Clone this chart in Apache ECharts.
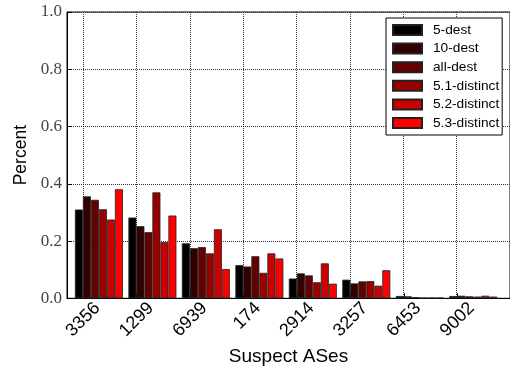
<!DOCTYPE html>
<html>
<head>
<meta charset="utf-8">
<script src="https://cdn.jsdelivr.net/npm/echarts@6/dist/echarts.min.js"></script>
<style>html,body{margin:0;padding:0;background:#fff}#c{width:510px;height:371px}</style>
</head>
<body>
<div id="c"></div>
<script>
var categories = ['3356', '1299', '6939', '174', '2914', '3257', '6453', '9002'];
var seriesNames = ['5-dest', '10-dest', 'all-dest', '5.1-distinct', '5.2-distinct', '5.3-distinct'];
var seriesColors = ['#000000', '#330000', '#660000', '#990000', '#cc0000', '#ff0000'];
var dest5 =      [0.310, 0.282, 0.192, 0.116, 0.069, 0.065, 0.008, 0.008];
var dest10 =     [0.356, 0.252, 0.175, 0.111, 0.087, 0.052, 0.007, 0.009];
var destAll =    [0.344, 0.231, 0.179, 0.147, 0.080, 0.059, 0.004, 0.007];
var distinct51 = [0.311, 0.370, 0.157, 0.089, 0.056, 0.060, 0.002, 0.006];
var distinct52 = [0.275, 0.196, 0.241, 0.157, 0.122, 0.044, 0.002, 0.009];
var distinct53 = [0.381, 0.289, 0.102, 0.139, 0.051, 0.098, 0.002, 0.006];
var yTicks = [0, 0.2, 0.4, 0.6, 0.8, 1.0];

var allValues = [dest5, dest10, destAll, distinct51, distinct52, distinct53];
var tickOffset = -0.2985;
var labelOffset = -0.03;

var series = allValues.map(function (vals, s) {
  return {
    name: seriesNames[s],
    type: 'bar',
    xAxisIndex: 0,
    yAxisIndex: 0,
    barWidth: 8,
    barGap: '0%',
    itemStyle: { color: seriesColors[s], borderColor: '#222', borderWidth: 0.8 },
    data: vals.map(function (v, i) { return [i, v]; })
  };
});

var chart = echarts.init(document.getElementById('c'), null, { renderer: 'canvas' });
chart.setOption({
  animation: false,
  backgroundColor: '#fff',
  grid: [
    { left: 67, right: -1, top: 12, bottom: 72, show: true, borderColor: '#000', borderWidth: 1 },
    { left: 83, right: -1.8, top: 12, bottom: 72 }
  ],
  legend: {
    orient: 'vertical',
    left: 386,
    top: 18,
    padding: [5, 3, 5, 6],
    itemWidth: 29,
    itemHeight: 10,
    itemGap: 4.6,
    borderColor: '#000',
    borderWidth: 1,
    backgroundColor: '#fff',
    icon: 'rect',
    textStyle: { fontFamily: 'Liberation Sans', fontSize: 13.7, color: '#000', padding: [0, 0, 0, 6] },
    data: seriesNames
  },
  xAxis: [{
    type: 'value',
    gridIndex: 0,
    min: -0.597,
    max: 7.687,
    name: 'Suspect ASes',
    nameLocation: 'middle',
    nameGap: 46,
    nameTextStyle: { fontFamily: 'Liberation Sans', fontSize: 19, color: '#000' },
    axisLine: { show: true, onZero: false, lineStyle: { color: '#000', width: 1 } },
    axisTick: { show: true, inside: true, length: 5, lineStyle: { color: '#000' },
      customValues: categories.map(function (c, i) { return i + tickOffset; }) },
    splitLine: { show: false },
    axisLabel: {
      rotate: 45,
      margin: 7,
      fontFamily: 'Liberation Sans',
      fontSize: 18,
      color: '#000',
      customValues: categories.map(function (c, i) { return i + labelOffset; }),
      formatter: function (v) { return categories[Math.round(v - labelOffset)] || ''; }
    }
  }, {
    type: 'value',
    gridIndex: 1,
    min: 0,
    max: 8,
    interval: 1,
    axisLine: { show: false },
    axisTick: { show: false },
    axisLabel: { show: false },
    splitLine: { show: true, lineStyle: { color: '#333', type: 'dotted', width: 1 } }
  }],
  yAxis: [{
    type: 'value',
    gridIndex: 0,
    min: 0,
    max: 1,
    interval: 0.2,
    name: 'Percent',
    nameLocation: 'middle',
    nameGap: 30,
    nameTextStyle: { fontFamily: 'Liberation Sans', fontSize: 17.5, color: '#000' },
    axisLine: { show: true, onZero: false, lineStyle: { color: '#000', width: 1 } },
    axisTick: { show: true, inside: true, length: 5, lineStyle: { color: '#000' } },
    splitLine: { show: true, lineStyle: { color: '#333', type: 'dotted', width: 1 } },
    axisLabel: {
      margin: 5,
      fontFamily: 'Liberation Serif',
      fontSize: 17,
      color: '#444',
      formatter: function (v) { return v.toFixed(1); }
    }
  }, {
    type: 'value',
    gridIndex: 1,
    min: 0,
    max: 1,
    show: false
  }],
  series: series
});
</script>
</body>
</html>
